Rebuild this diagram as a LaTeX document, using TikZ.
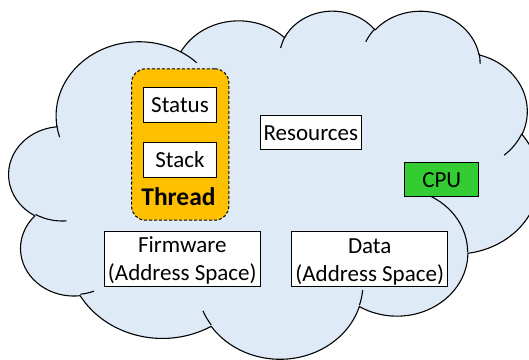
\documentclass[tikz,border=0pt]{standalone}
\usepackage{fontspec}
\setmainfont{Carlito}
\definecolor{cloudfill}{HTML}{DEEBF7}
\definecolor{threadfill}{HTML}{FFC000}
\definecolor{cpufill}{HTML}{33CC33}

% Elliptic arc given as {x radius}{y radius}{start angle}{sweep}, where the
% angles are ray angles (as for a cloud outline); they are turned into the
% parametric angles that TikZ's arc expects.
\newcommand\cldarc[4]{arc[x radius=#1pt, y radius=#2pt,
  start angle={atan2(#1*sin(#3),#2*cos(#3))},
  delta angle={mod(atan2(#1*sin(#3+#4),#2*cos(#3+#4))-atan2(#1*sin(#3),#2*cos(#3))+720,360)}]}

\tikzset{
  cloudshape/.style={draw=black, fill=cloudfill, line width=1.1pt, line join=round},
  cloudcrease/.style={draw=black, line width=1.1pt},
  lbl/.style={font=\fontsize{23}{28}\selectfont, inner sep=0pt,
    text height=20.6pt, text depth=5pt},
  twolbl/.style={font=\fontsize{23}{28}\selectfont, inner sep=0pt,
    text height=48.4pt, text depth=5pt},
  wbox/.style={draw=black, fill=white, line width=1pt},
  threadbox/.style={draw=black, fill=threadfill, line width=1pt,
    dash pattern=on 3pt off 2pt, rounded corners=14pt},
}

\begin{document}
\begin{tikzpicture}[x=1pt, y=1pt]
\useasboundingbox (0,0) rectangle (529,-359);
\clip (0,0) rectangle (529,-359);

% cloud outline and its inner creases
\begin{scope}[shift={(9,-10)}, xscale=1.226852, yscale=-0.805556]
  \path[cloudshape] (39.00,143.70)
    \cldarc{67.53}{91.90}{-190.4875}{123.7805}
    \cldarc{53.33}{72.67}{-144.1024}{89.9452}
    \cldarc{43.65}{59.45}{-145.8079}{99.7230}
    \cldarc{48.57}{65.95}{-130.9861}{117.2417}
    \cldarc{53.33}{72.73}{-78.7089}{109.0269}
    \cldarc{67.75}{92.20}{-46.2673}{130.2690}
    \cldarc{57.85}{78.67}{0.6250}{114.0333}
    \cldarc{67.52}{92.15}{22.4516}{115.1726}
    \cldarc{77.20}{105.43}{66.2426}{75.7110}
    \cldarc{43.60}{59.18}{-274.9421}{146.7356}
    \cldarc{43.45}{59.45}{-246.8285}{152.5189}
    -- cycle;
  \path[cloudcrease]
    (46.93,261.77) \cldarc{43.45}{59.45}{86.7420}{26.4295}
    (69.28,348.99) \cldarc{43.60}{59.18}{73.6105}{11.4475}
    (164.78,390.90) \cldarc{67.52}{92.15}{137.6242}{14.0811}
    (288.27,347.51) \cldarc{67.52}{92.15}{6.4533}{15.9984}
    (341.29,229.54) \cldarc{57.85}{78.67}{-70.2924}{70.9174}
    (417.98,153.54) \cldarc{53.33}{72.73}{30.3180}{27.7515}
    (383.24,54.26) \cldarc{48.57}{65.95}{-13.7443}{14.8589}
    (290.78,39.52) \cldarc{48.57}{65.95}{-149.1815}{18.1954}
    (221.41,47.20) \cldarc{43.65}{59.45}{-163.4943}{17.6864}
    (140.00,51.92) \cldarc{67.53}{91.90}{-66.7070}{12.3194}
    (41.27,157.89) \cldarc{67.53}{91.90}{157.6544}{11.8582};
\end{scope}

% thread with its status and stack
\node[threadbox, minimum width=97.3pt, minimum height=151.4pt] (thread) at (180.2,-144.5) {};
\node[wbox, lbl, minimum width=73.6pt, minimum height=34.4pt] (status) at (180,-105) {Status};
\node[wbox, lbl, minimum width=73.6pt, minimum height=34.4pt] (stack) at (180,-159.8) {Stack};
\node[anchor=base, inner sep=0pt, font=\fontsize{25.5}{30}\selectfont\bfseries] (threadname) at (178.5,-205) {Thread};

% process resources
\node[wbox, lbl, minimum width=100.7pt, minimum height=34pt] (res) at (310.8,-132.5) {Resources};
\node[wbox, lbl, fill=cpufill, minimum width=73.7pt, minimum height=34.3pt] (cpu) at (441.7,-179.7) {CPU};
\node[wbox, twolbl, minimum width=155.7pt, minimum height=54.4pt] (fw) at (182.3,-259)
  {\begin{tabular}[b]{@{}c@{}}Firmware\\(Address Space)\end{tabular}};
\node[wbox, twolbl, minimum width=156.3pt, minimum height=55pt] (data) at (369.7,-259.3)
  {\begin{tabular}[b]{@{}c@{}}Data\\(Address Space)\end{tabular}};
\end{tikzpicture}
\end{document}
